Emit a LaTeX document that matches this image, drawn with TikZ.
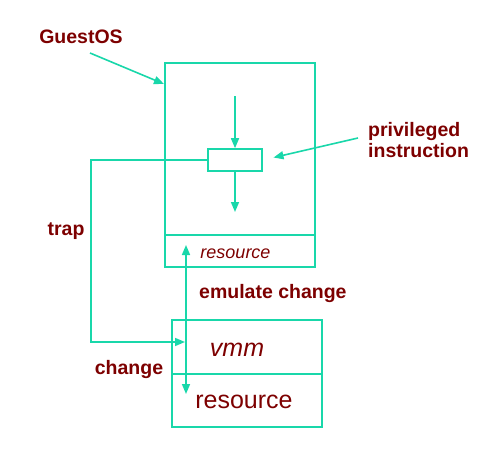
\documentclass[tikz,border=0pt]{standalone}
\usepackage{fontspec}
\setmainfont{Liberation Sans}
\usetikzlibrary{arrows.meta}
\definecolor{teal1}{RGB}{25,215,170}
\definecolor{maroon1}{RGB}{125,0,0}
\begin{document}
\begin{tikzpicture}[x=1pt,y=-1pt,
    box/.style={draw=teal1, line width=1.6pt, shape=rectangle, inner sep=0pt},
    lbl/.style={text=maroon1, inner sep=0pt, font=\fontsize{19.5}{21}\selectfont\bfseries},
    arr/.style={draw=teal1, line width=1.6pt, -{Triangle[length=10pt,width=8pt]}}]
    \useasboundingbox (0,0) rectangle (496,464);
			    \node[box, minimum width=150pt, minimum height=172pt] (GO) at (240,149) {};
		    	\node[box, minimum width=150pt, minimum height=32pt] (GR) at (240,251) {};
		    	\node[box, minimum width=54pt, minimum height=22pt] (PI) at (235,160) {};
		    	\node[box, minimum width=150pt, minimum height=54pt] (VM) at (247,347) {};
		    	\node[box, minimum width=150pt, minimum height=53pt] (VR) at (247,400.5) {};
		    	
		    	\node[lbl, anchor=base] (LG) at (81,43) {GuestOS};
		    	\node[lbl, anchor=base west, align=left] (LP) at (368,157) {privileged\\instruction};
		    	\node[lbl, anchor=base] (LT) at (66,235) {trap};
		    	\node[lbl, anchor=base west] (LE) at (199,298) {emulate change};
		    	\node[lbl, anchor=base] (LC) at (129,374) {change};
		    	\node[text=maroon1, inner sep=0pt, anchor=base, font=\fontsize{18}{20}\selectfont\itshape] (LR) at (235.5,258) {resource};
		    	\node[text=maroon1, inner sep=0pt, anchor=base, font=\fontsize{25}{28}\selectfont\itshape] (LV) at (237,356) {vmm};
		    	\node[text=maroon1, inner sep=0pt, anchor=base, font=\fontsize{25}{28}\selectfont] (LS) at (244,408) {resource};
		    	
		    	\coordinate (G1) at (90,53);
		    	\coordinate (G2) at (164,84);
		    	\coordinate (P1) at (358,138);
		    	\coordinate (T1) at (235,96);
		    	\coordinate (T2) at (235,212);
		    	\coordinate (TL) at (91,342);
		    	\coordinate (TE) at (185,342);
		    	\coordinate (E1) at (186,245);
		    	\coordinate (E2) at (186,394);
		    	
		    	\draw[arr] (G1)--(G2);
		    	\draw[arr, shorten >=11pt] (P1)--(PI.east);
		    	\draw[arr] (T1)--(PI.north);
		    	\draw[arr] (PI.south)--(T2);
		    	\draw[arr] (PI.west)-|(TL)--(TE);
		    	\draw[arr, {Triangle[length=10pt,width=8pt]}-{Triangle[length=10pt,width=8pt]}] (E1)--(E2);
		    \end{tikzpicture}
\end{document}
